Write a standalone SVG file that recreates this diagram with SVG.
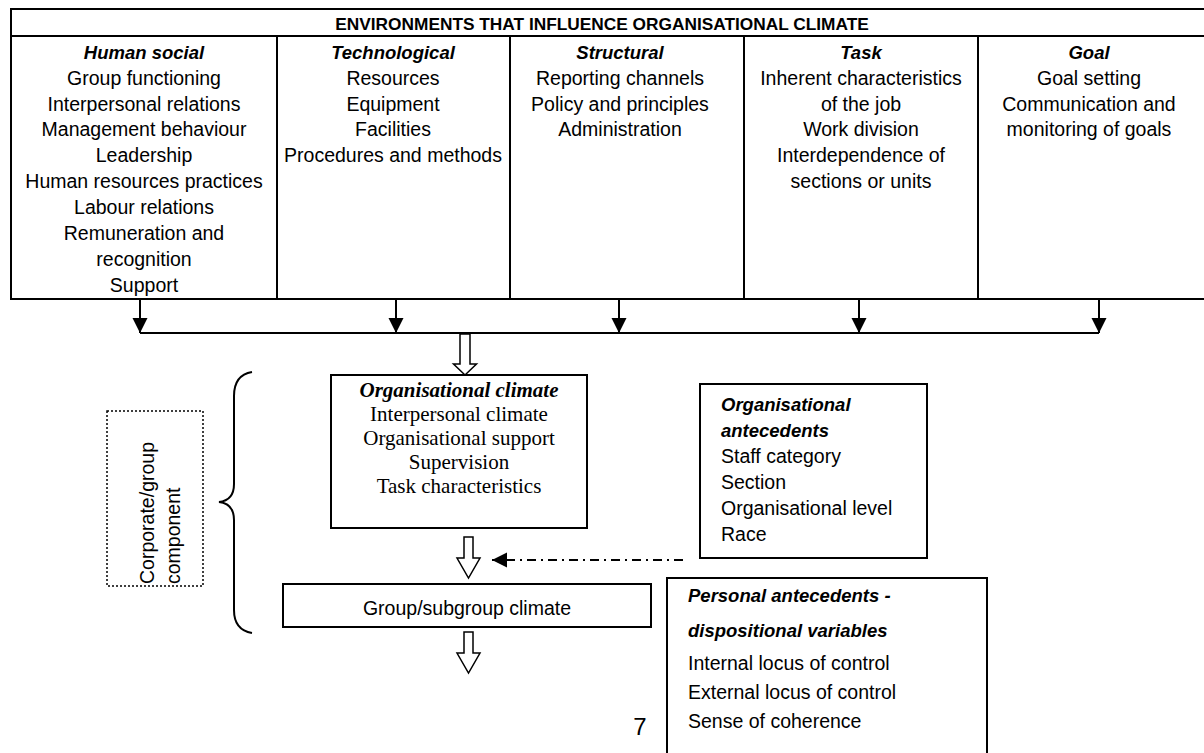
<svg xmlns="http://www.w3.org/2000/svg" width="1204" height="753" viewBox="0 0 1204 753">
<style>
.ln{stroke:#000;stroke-width:2;fill:none}
.bx{stroke:#000;stroke-width:2;fill:#fff}
.s{font-family:"Liberation Sans",Arial,sans-serif;font-size:19.5px;fill:#000}
.c{text-anchor:middle}
.h{font-weight:bold;font-style:italic;font-size:18.5px}
.t{font-family:"Liberation Serif","Times New Roman",serif;font-size:21px;fill:#000;text-anchor:middle}
.blk{stroke:#000;stroke-width:1.5;fill:#fff}
</style>
<defs>
<marker id="ah" markerUnits="userSpaceOnUse" markerWidth="16" markerHeight="16" refX="15" refY="7.5" orient="auto">
<path d="M0,0 L15,7.5 L0,15 Z" fill="#000"/>
</marker>
</defs>
<rect width="1204" height="753" fill="#fff"/>

<g id="environments">
<rect x="11" y="9" width="1200" height="290" class="ln"/>
<line x1="11" y1="36" x2="1204" y2="36" class="ln"/>
<line x1="277" y1="36" x2="277" y2="299" class="ln"/>
<line x1="510" y1="36" x2="510" y2="299" class="ln"/>
<line x1="744" y1="36" x2="744" y2="299" class="ln"/>
<line x1="978" y1="36" x2="978" y2="299" class="ln"/>
<text x="602" y="30" class="s c" style="font-weight:bold;font-size:17.3px">ENVIRONMENTS THAT INFLUENCE ORGANISATIONAL CLIMATE</text>
</g>

<g id="col-human-social">
<text x="144" y="59" class="s c h">Human social</text>
<text x="144" y="85" class="s c">Group functioning</text>
<text x="144" y="111" class="s c">Interpersonal relations</text>
<text x="144" y="136" class="s c">Management behaviour</text>
<text x="144" y="162" class="s c">Leadership</text>
<text x="144" y="188" class="s c">Human resources practices</text>
<text x="144" y="214" class="s c">Labour relations</text>
<text x="144" y="240" class="s c">Remuneration and</text>
<text x="144" y="266" class="s c">recognition</text>
<text x="144" y="292" class="s c">Support</text>
</g>

<g id="col-technological">
<text x="393" y="59" class="s c h">Technological</text>
<text x="393" y="85" class="s c">Resources</text>
<text x="393" y="111" class="s c">Equipment</text>
<text x="393" y="136" class="s c">Facilities</text>
<text x="393" y="162" class="s c">Procedures and methods</text>
</g>

<g id="col-structural">
<text x="620" y="59" class="s c h">Structural</text>
<text x="620" y="85" class="s c">Reporting channels</text>
<text x="620" y="111" class="s c">Policy and principles</text>
<text x="620" y="136" class="s c">Administration</text>
</g>

<g id="col-task">
<text x="861" y="59" class="s c h">Task</text>
<text x="861" y="85" class="s c">Inherent characteristics</text>
<text x="861" y="111" class="s c">of the job</text>
<text x="861" y="136" class="s c">Work division</text>
<text x="861" y="162" class="s c">Interdependence of</text>
<text x="861" y="188" class="s c">sections or units</text>
</g>

<g id="col-goal">
<text x="1089" y="59" class="s c h">Goal</text>
<text x="1089" y="85" class="s c">Goal setting</text>
<text x="1089" y="111" class="s c">Communication and</text>
<text x="1089" y="136" class="s c">monitoring of goals</text>
</g>

<g id="connectors">
<line x1="140" y1="299" x2="140" y2="333" class="ln" marker-end="url(#ah)"/>
<line x1="396" y1="299" x2="396" y2="333" class="ln" marker-end="url(#ah)"/>
<line x1="619" y1="299" x2="619" y2="333" class="ln" marker-end="url(#ah)"/>
<line x1="859" y1="299" x2="859" y2="333" class="ln" marker-end="url(#ah)"/>
<line x1="1099" y1="299" x2="1099" y2="333" class="ln" marker-end="url(#ah)"/>
<line x1="140" y1="333" x2="1099" y2="333" class="ln"/>
<polygon points="460,334 470,334 470,364 476.5,364 465,375 453.5,364 460,364" class="blk"/>
<polygon points="464,537 473,537 473,558 480,558 468.5,578 457,558 464,558" class="blk"/>
<polygon points="464,632 473,632 473,653 480,653 468.5,673 457,653 464,653" class="blk"/>
<line x1="683" y1="560" x2="492" y2="560" class="ln" stroke-dasharray="9 5 2 5" marker-end="url(#ah)"/>
<path d="M252,372 C240,374 234,382 234,396 L234,484 C234,496 228,501 219,502 C228,503 234,508 234,520 L234,610 C234,624 240,631 252,633" class="ln"/>
</g>

<g id="corporate-group">
<rect x="107" y="411" width="96" height="175" fill="none" stroke="#000" stroke-width="1.5" stroke-dasharray="2 2"/>
<text transform="translate(154,584) rotate(-90)" class="s">Corporate/group</text>
<text transform="translate(180,584) rotate(-90)" class="s">component</text>
</g>

<g id="org-climate">
<rect x="331" y="375" width="256" height="153" class="bx"/>
<text x="459" y="397" class="t" style="font-weight:bold;font-style:italic">Organisational climate</text>
<text x="459" y="421" class="t">Interpersonal climate</text>
<text x="459" y="445" class="t">Organisational support</text>
<text x="459" y="469" class="t">Supervision</text>
<text x="459" y="493" class="t">Task characteristics</text>
</g>

<g id="org-antecedents">
<rect x="700" y="384" width="227" height="174" class="bx"/>
<text x="721" y="411" class="s h">Organisational</text>
<text x="721" y="437" class="s h">antecedents</text>
<text x="721" y="463" class="s">Staff category</text>
<text x="721" y="489" class="s">Section</text>
<text x="721" y="515" class="s">Organisational level</text>
<text x="721" y="541" class="s">Race</text>
</g>

<g id="group-climate">
<rect x="283" y="584" width="368" height="43" class="bx"/>
<text x="467" y="615" class="s c">Group/subgroup climate</text>
</g>

<g id="personal-antecedents">
<rect x="667" y="578" width="320" height="190" class="bx"/>
<text x="688" y="602" class="s h">Personal antecedents -</text>
<text x="688" y="637" class="s h">dispositional variables</text>
<text x="688" y="670" class="s">Internal locus of control</text>
<text x="688" y="699" class="s">External locus of control</text>
<text x="688" y="728" class="s">Sense of coherence</text>
</g>

<g id="page-number">
<text x="640" y="735" class="s c" style="font-size:24px">7</text>
</g>
</svg>
